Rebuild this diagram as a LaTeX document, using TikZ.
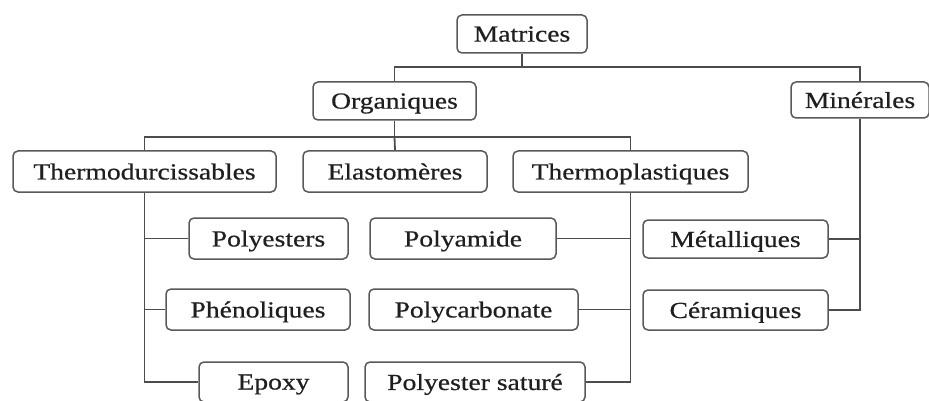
\documentclass[tikz,border=0pt]{standalone}
\usepackage{fontspec}
\setmainfont{Liberation Serif}[FakeStretch=1.2,FakeBold=0.6]
\begin{document}
\begin{tikzpicture}[x=1pt,y=-1pt,
  box/.style={draw=black!65, line width=1.5pt, rounded corners=5pt, fill=white,
    inner sep=0pt, font=\fontsize{23}{26}\selectfont, text=black!88, text depth=0pt, anchor=center},
  link/.style={draw=black!70, line width=1.8pt}]
\useasboundingbox (0,0) rectangle (929,401);
\node[box, minimum width=130pt, minimum height=38pt] (mat) at (522,34) {Matrices};
\node[box, minimum width=163pt, minimum height=38pt] (org) at (394.5,101) {Organiques};
\node[box, minimum width=138pt, minimum height=36pt] (min) at (860,100) {Minérales};
\node[box, minimum width=263pt, minimum height=41pt] (thd) at (144.5,171.5) {Thermodurcissables};
\node[box, minimum width=184pt, minimum height=41pt] (ela) at (395,171.5) {Elastomères};
\node[box, minimum width=235pt, minimum height=41pt] (thp) at (630.5,171.5) {Thermoplastiques};
\node[box, minimum width=159pt, minimum height=41pt] (pes) at (268.5,238.5) {Polyesters};
\node[box, minimum width=186pt, minimum height=41pt] (pam) at (463,238.5) {Polyamide};
\node[box, minimum width=184pt, minimum height=41pt] (phe) at (258,309.5) {Phénoliques};
\node[box, minimum width=209pt, minimum height=41pt] (pca) at (473.5,309.5) {Polycarbonate};
\node[box, minimum width=149pt, minimum height=40pt] (epo) at (273.5,382) {Epoxy};
\node[box, minimum width=220pt, minimum height=40pt] (psa) at (475,382) {Polyester saturé};
\node[box, minimum width=185pt, minimum height=38pt] (met) at (735.5,239) {Métalliques};
\node[box, minimum width=185pt, minimum height=40pt] (cer) at (735.5,310) {Céramiques};
\coordinate (j1) at (522,67);
\coordinate (j2) at (394.5,137);
\path[link] (mat.south) -- (j1);
\path[link] (org.north) |- (j1) -| (min.north);
\path[link] (org.south) -- (j2);
\path[link] (thd.north) |- (j2) -| (thp.north);
\path[link] (j2) -- (ela.north);
\path[link] (thd.south) |- (epo.west);
\path[link] (thd.south |- pes.west) -- (pes.west);
\path[link] (thd.south |- phe.west) -- (phe.west);
\path[link] (thp.south) |- (psa.east);
\path[link] (thp.south |- pam.east) -- (pam.east);
\path[link] (thp.south |- pca.east) -- (pca.east);
\path[link] (min.south) |- (cer.east);
\path[link] (min.south |- met.east) -- (met.east);
\end{tikzpicture}
\end{document}
